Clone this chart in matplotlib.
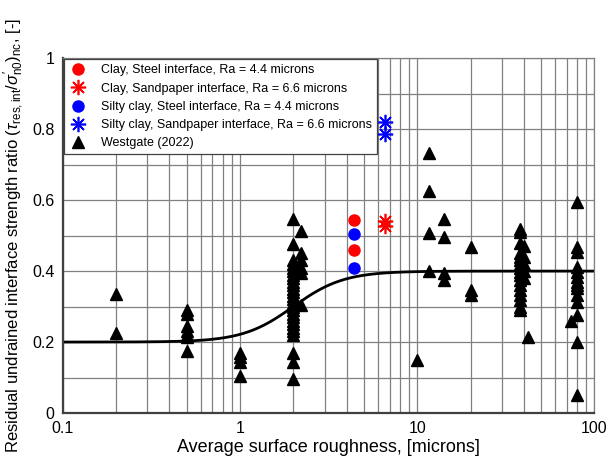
import numpy as np
import matplotlib
matplotlib.use("Agg")
import matplotlib.pyplot as plt
from matplotlib.ticker import FixedLocator, NullFormatter, LogLocator

plt.rcParams['font.family'] = ['Liberation Sans', 'DejaVu Sans']
plt.rcParams['mathtext.fontset'] = 'custom'
plt.rcParams['mathtext.rm'] = 'Liberation Sans'
plt.rcParams['mathtext.it'] = 'Liberation Sans:italic'

# Data
clay_steel_x = [4.4, 4.4]
clay_steel_y = [0.545, 0.46]
clay_sand_x = [6.6, 6.6]
clay_sand_y = [0.54, 0.527]
silty_steel_x = [4.4, 4.4]
silty_steel_y = [0.505, 0.41]
silty_sand_x = [6.6, 6.6]
silty_sand_y = [0.82, 0.787]

wg_x = ([0.2] * 2 + [0.5] * 7 + [1.0] * 4
        + [2.0] * 27 + [2.22] * 6
        + [10.0] + [11.7] * 4 + [14.2] * 4 + [20.0] * 3
        + [38.0] * 17 + [40.3] * 5 + [42.0]
        + [80.0] * 14 + [74.0])
wg_y = ([0.335, 0.225]
        + [0.29, 0.28, 0.245, 0.23, 0.22, 0.215, 0.175]
        + [0.17, 0.158, 0.145, 0.105]
        + [0.546, 0.475, 0.43, 0.42, 0.41, 0.40, 0.39, 0.38, 0.37, 0.36, 0.35,
           0.34, 0.33, 0.32, 0.31, 0.30, 0.29, 0.28, 0.27, 0.26, 0.25, 0.24,
           0.23, 0.22, 0.168, 0.145, 0.095]
        + [0.514, 0.45, 0.43, 0.41, 0.394, 0.304]
        + [0.15]
        + [0.734, 0.625, 0.506, 0.40]
        + [0.546, 0.495, 0.394, 0.375]
        + [0.469, 0.346, 0.332]
        + [0.518, 0.509, 0.478, 0.45, 0.44, 0.431, 0.42, 0.408, 0.398, 0.389,
           0.375, 0.36, 0.346, 0.332, 0.318, 0.30, 0.29]
        + [0.471, 0.44, 0.42, 0.40, 0.38]
        + [0.215]
        + [0.594, 0.468, 0.454, 0.412, 0.398, 0.384, 0.37, 0.36, 0.351, 0.333,
           0.314, 0.277, 0.2, 0.05]
        + [0.26])

# fitted trend line parameters
y_low, y_high, x_mid, steep = 0.2, 0.4, 2.0, 7.0

fig = plt.figure(figsize=(6.09, 4.62), dpi=100)
ax = fig.add_axes([0.103, 0.106, 0.873, 0.768])

ax.set_xscale('log')
ax.set_xlim(0.1, 100)
ax.set_ylim(0, 1)

ax.xaxis.set_major_locator(FixedLocator([0.1, 1, 10, 100]))
ax.xaxis.set_minor_locator(LogLocator(base=10, subs=np.arange(2, 10)))
ax.xaxis.set_minor_formatter(NullFormatter())
ax.set_xticklabels(['0.1', '1', '10', '100'])
ax.yaxis.set_major_locator(FixedLocator([0, 0.2, 0.4, 0.6, 0.8, 1.0]))
ax.yaxis.set_minor_locator(FixedLocator([0.1, 0.3, 0.5, 0.7, 0.9]))
ax.set_yticklabels(['0', '0.2', '0.4', '0.6', '0.8', '1'])

ax.grid(True, which='both', color='#808080', lw=0.9)
ax.set_axisbelow(True)
ax.tick_params(which='both', length=0, labelsize=11.5, pad=6)
for s in ['bottom', 'left']:
    ax.spines[s].set_color('#404040')
    ax.spines[s].set_linewidth(1.6)
for s in ['top', 'right']:
    ax.spines[s].set_color('#808080')
    ax.spines[s].set_linewidth(0.9)

xc = np.logspace(-1, 2, 400)
yc = y_low + (y_high - y_low) / (1 + np.exp(-steep * (np.log10(xc) - np.log10(x_mid))))
ax.plot(xc, yc, color='black', lw=2, zorder=2)

ax.plot(clay_steel_x, clay_steel_y, 'o', color='#ff0000', ms=8, ls='none',
        label='Clay, Steel interface, Ra = 4.4 microns', zorder=3)
ax.plot(clay_sand_x, clay_sand_y, marker=(8, 2, 0), color='#ff0000', ms=11, mew=1.2,
        ls='none', label='Clay, Sandpaper interface, Ra = 6.6 microns', zorder=3)
ax.plot(silty_steel_x, silty_steel_y, 'o', color='#0000ff', ms=8, ls='none',
        label='Silty clay, Steel interface, Ra = 4.4 microns', zorder=3)
ax.plot(silty_sand_x, silty_sand_y, marker=(8, 2, 0), color='#0000ff', ms=11, mew=1.2,
        ls='none', label='Silty clay, Sandpaper interface, Ra = 6.6 microns', zorder=3)
ax.plot(wg_x, wg_y, '^', color='black', ms=8, ls='none',
        label='Westgate (2022)', zorder=3)

leg = ax.legend(loc='upper left', fontsize=9, frameon=True, fancybox=False,
                borderaxespad=0.1, handletextpad=1.2, labelspacing=0.5,
                borderpad=0.4, handlelength=1.4, framealpha=1)
leg.get_frame().set_edgecolor('#404040')
leg.get_frame().set_linewidth(0.9)

ax.set_xlabel('Average surface roughness, [microns]', fontsize=13, labelpad=2)
ax.set_ylabel(r'Residual undrained interface strength ratio ($\tau_{\mathrm{res,int}}$/$\sigma^{\prime}_{\mathrm{n0}}$)$_{\mathrm{nc}}$, [-]',
              fontsize=12, labelpad=4)

fig.savefig('out.png', dpi=100)
